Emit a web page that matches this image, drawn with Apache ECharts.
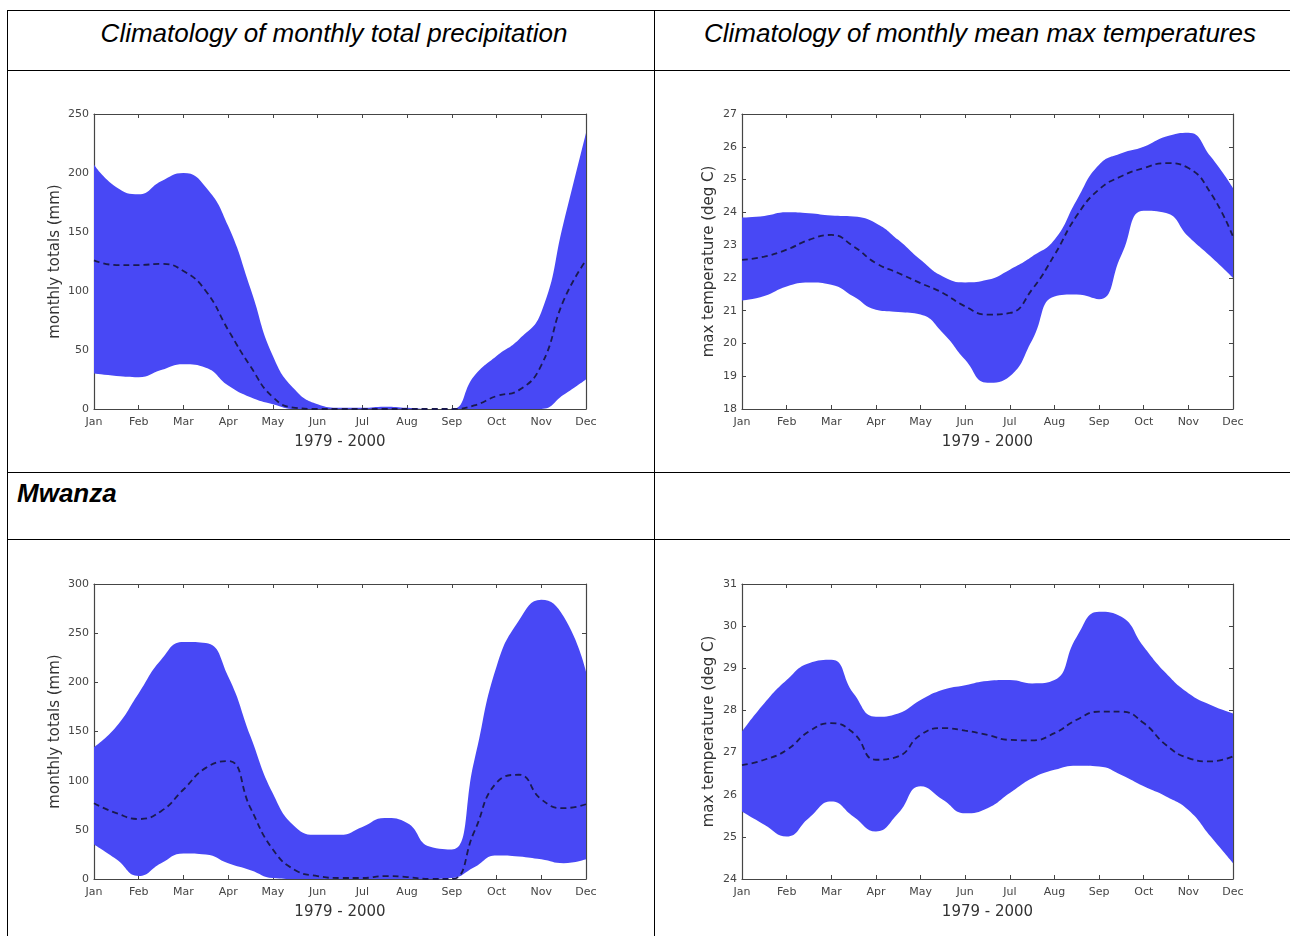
<!DOCTYPE html>
<html>
<head>
<meta charset="utf-8">
<script src="https://cdn.jsdelivr.net/npm/echarts@6/dist/echarts.min.js"></script>
<style>
html, body { margin: 0; padding: 0; background: #fff; }
body { width: 1290px; height: 936px; position: relative; overflow: hidden; }
.hline { position: absolute; left: 7px; width: 1283px; height: 1px; background: #000; }
.vline { position: absolute; top: 10px; width: 1px; height: 926px; background: #000; }
.head { position: absolute; font-family: "Liberation Sans", Arial, sans-serif; font-size: 26px; line-height: 26px; font-style: italic; color: #000; white-space: nowrap; }
.chart { position: absolute; width: 620px; height: 372px; }
</style>
</head>
<body>
<div class="hline" style="top:10px"></div>
<div class="hline" style="top:70px"></div>
<div class="hline" style="top:472px"></div>
<div class="hline" style="top:539px"></div>
<div class="vline" style="left:7px"></div>
<div class="vline" style="left:654px"></div>

<div class="head" style="left:7px;width:654px;text-align:center;top:20px">Climatology of monthly total precipitation</div>
<div class="head" style="left:655px;width:650px;text-align:center;top:20px">Climatology of monthly mean max temperatures</div>
<div class="head" style="left:17px;top:480px;font-weight:bold">Mwanza</div>

<div id="chartPrecipTop" class="chart" style="left:20px;top:94px"></div>
<div id="chartTempTop" class="chart" style="left:665px;top:94px"></div>
<div id="chartPrecipBottom" class="chart" style="left:20px;top:564px"></div>
<div id="chartTempBottom" class="chart" style="left:665px;top:564px"></div>

<script>
var months = ['Jan', 'Feb', 'Mar', 'Apr', 'May', 'Jun', 'Jul', 'Aug', 'Sep', 'Oct', 'Nov', 'Dec'];
var halfMonths = ['Jan', 'mid-Jan', 'Feb', 'mid-Feb', 'Mar', 'mid-Mar', 'Apr', 'mid-Apr', 'May', 'mid-May', 'Jun', 'mid-Jun',
                  'Jul', 'mid-Jul', 'Aug', 'mid-Aug', 'Sep', 'mid-Sep', 'Oct', 'mid-Oct', 'Nov', 'mid-Nov', 'Dec'];

// top row: precipitation (mm)
var precipTopMax  = [207, 188, 182, 193, 200, 188, 155, 102, 45, 16, 4, 1, 1, 2, 1, 0, 0, 28, 45, 59, 82, 158, 234];
var precipTopMin  = [30, 28, 27, 33, 38, 35, 20, 10, 4, 0, 0, 0, 0, 0, 0, 0, 0, 0, 0, 0, 0, 12, 25];
var precipTopMean = [126, 122, 122, 123, 117, 100, 67, 36, 10, 1, 0, 0, 0, 0, 0, 0, 0, 3, 11, 16, 37, 92, 126];

// top row: max temperature (deg C)
var tempTopMax  = [23.84, 23.89, 24.0, 23.97, 23.9, 23.87, 23.67, 23.16, 22.55, 22.04, 21.86, 21.94, 22.25, 22.65, 23.16, 24.38, 25.45, 25.8, 26.0, 26.31, 26.43, 25.7, 24.74];
var tempTopMin  = [21.31, 21.45, 21.74, 21.86, 21.79, 21.43, 21.03, 20.96, 20.88, 20.32, 19.5, 18.8, 19.0, 20.1, 21.43, 21.49, 21.35, 22.7, 24.05, 23.98, 23.26, 22.65, 22.0];
var tempTopMean = [22.55, 22.65, 22.86, 23.16, 23.31, 22.96, 22.45, 22.15, 21.84, 21.54, 21.13, 20.88, 20.93, 21.65, 22.7, 23.9, 24.7, 25.1, 25.35, 25.5, 25.35, 24.59, 23.26];

// Mwanza: precipitation (mm)
var precipMwanzaMax  = [134, 155, 189, 223, 241, 240, 206, 145, 87, 53, 45, 45, 53, 62, 57, 33, 30, 120, 216, 263, 284, 267, 211];
var precipMwanzaMin  = [35, 20, 3, 16, 26, 25, 16, 9, 1, 0, 0, 0, 0, 0, 0, 0, 1, 12, 24, 23, 20, 16, 20];
var precipMwanzaMean = [77, 67, 61, 69, 91, 113, 120, 72, 30, 9, 3, 1, 1, 3, 2, 0, 0, 48, 98, 106, 81, 72, 76];

// Mwanza: max temperature (deg C)
var tempMwanzaMax  = [27.5, 28.17, 28.72, 29.12, 29.2, 28.4, 27.85, 27.93, 28.25, 28.49, 28.6, 28.7, 28.72, 28.64, 28.72, 29.75, 30.34, 30.22, 29.51, 28.88, 28.41, 28.13, 27.93];
var tempMwanzaMin  = [25.6, 25.29, 25.01, 25.45, 25.84, 25.48, 25.13, 25.56, 26.2, 25.88, 25.56, 25.68, 26.04, 26.39, 26.59, 26.69, 26.67, 26.47, 26.2, 25.96, 25.64, 25.01, 24.38];
var tempMwanzaMean = [26.7, 26.83, 27.06, 27.5, 27.7, 27.46, 26.83, 26.91, 27.42, 27.58, 27.52, 27.42, 27.3, 27.29, 27.46, 27.78, 27.97, 27.97, 27.7, 27.18, 26.87, 26.79, 26.91];

var bandColor = '#4848f5';
var meanColor = '#1a1a4e';
var frameColor = '#454545';
var fontFamily = '"DejaVu Sans", sans-serif';

// thickness of the band at each point, stacked on the min curve
function rangeOf(top, bottom) {
    return top.map(function (v, i) { return +(v - bottom[i]).toFixed(3); });
}

function xAxisOf(position, showLabel) {
    return {
        type: 'category', data: halfMonths, boundaryGap: false, position: position,
        axisLine: { show: true, onZero: false, lineStyle: { color: frameColor, width: 1.2 } },
        axisTick: { show: true, inside: true, length: 4, interval: 1, lineStyle: { color: frameColor } },
        axisLabel: {
            show: showLabel, interval: 1, margin: 8, fontSize: 11, color: '#444', fontFamily: fontFamily,
            formatter: function (v) { return months.indexOf(v) >= 0 ? v : ''; }
        },
        splitLine: { show: false },
        name: showLabel ? '1979 - 2000' : '',
        nameLocation: 'middle', nameGap: 26,
        nameTextStyle: { fontSize: 15, color: '#333', fontFamily: fontFamily }
    };
}

function yAxisOf(cfg, position, showLabel) {
    return {
        type: 'value', min: cfg.min, max: cfg.max, interval: cfg.interval, position: position,
        axisLine: { show: true, onZero: false, lineStyle: { color: frameColor, width: 1.2 } },
        axisTick: { show: true, inside: true, length: 4, lineStyle: { color: frameColor } },
        axisLabel: { show: showLabel, margin: 5, fontSize: 11, color: '#444', fontFamily: fontFamily },
        splitLine: { show: false },
        name: showLabel ? cfg.name : '',
        nameLocation: 'middle', nameGap: cfg.nameGap, nameMoveOverlap: false,
        nameTextStyle: { fontSize: 15, color: '#333', fontFamily: fontFamily }
    };
}

function drawClimChart(domId, cfg) {
    var myChart = echarts.init(document.getElementById(domId));
    var option = {
        animation: false,
        backgroundColor: '#fff',
        grid: { left: cfg.left, top: 20, width: cfg.width, height: 295 },
        xAxis: [xAxisOf('bottom', true), xAxisOf('top', false)],
        yAxis: [yAxisOf(cfg, 'left', true), yAxisOf(cfg, 'right', false)],
        series: [
            {
                name: 'min', type: 'line', stack: 'band', smooth: 0.5,
                symbol: 'none', lineStyle: { opacity: 0 },
                data: cfg.minData
            },
            {
                name: 'range', type: 'line', stack: 'band', smooth: 0.5,
                symbol: 'none', lineStyle: { opacity: 0 },
                areaStyle: { color: bandColor, opacity: 1 },
                data: rangeOf(cfg.maxData, cfg.minData)
            },
            {
                name: 'mean', type: 'line', smooth: 0.5, z: 5,
                symbol: 'none',
                lineStyle: { color: meanColor, width: 1.8, type: [6, 4] },
                data: cfg.meanData
            }
        ]
    };
    myChart.setOption(option);
}

drawClimChart('chartPrecipTop', {
    left: 74, width: 492, min: 0, max: 250, interval: 50,
    name: 'monthly totals (mm)', nameGap: 31,
    maxData: precipTopMax, minData: precipTopMin, meanData: precipTopMean
});
drawClimChart('chartTempTop', {
    left: 77, width: 491, min: 18, max: 27, interval: 1,
    name: 'max temperature (deg C)', nameGap: 25,
    maxData: tempTopMax, minData: tempTopMin, meanData: tempTopMean
});
drawClimChart('chartPrecipBottom', {
    left: 74, width: 492, min: 0, max: 300, interval: 50,
    name: 'monthly totals (mm)', nameGap: 31,
    maxData: precipMwanzaMax, minData: precipMwanzaMin, meanData: precipMwanzaMean
});
drawClimChart('chartTempBottom', {
    left: 77, width: 491, min: 24, max: 31, interval: 1,
    name: 'max temperature (deg C)', nameGap: 25,
    maxData: tempMwanzaMax, minData: tempMwanzaMin, meanData: tempMwanzaMean
});
</script>
</body>
</html>
